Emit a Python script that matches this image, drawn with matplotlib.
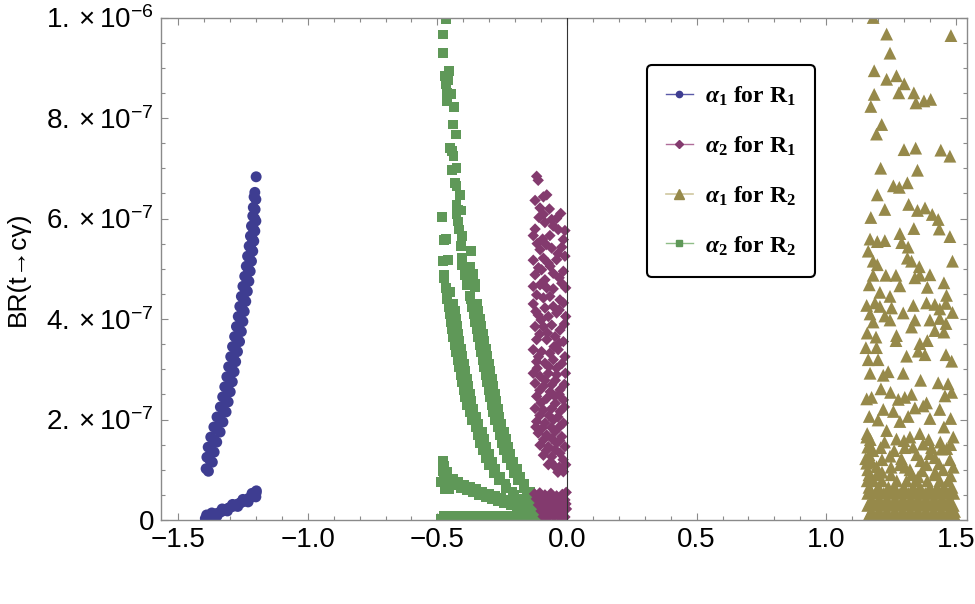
import numpy as np
import matplotlib.pyplot as plt
from matplotlib.lines import Line2D
from matplotlib.ticker import MultipleLocator

plt.rcParams['font.family'] = ['Liberation Sans', 'DejaVu Sans']
plt.rcParams['mathtext.fontset'] = 'custom'
plt.rcParams['mathtext.rm'] = 'Liberation Sans'
plt.rcParams['mathtext.it'] = 'Liberation Sans:italic'
plt.rcParams['mathtext.bf'] = 'Liberation Serif:italic:bold'
plt.rcParams['mathtext.sf'] = 'Liberation Serif:bold'

# values: (x, BR in units of 1e-7)
blue_pts = [
    (-1.392, 1.02), (-1.383, 0.97),
    (-1.389, 1.25), (-1.378, 1.20), (-1.368, 1.15),
    (-1.384, 1.45), (-1.372, 1.40), (-1.361, 1.35),
    (-1.374, 1.65), (-1.362, 1.60), (-1.351, 1.55),
    (-1.362, 1.85), (-1.349, 1.80), (-1.338, 1.75),
    (-1.350, 2.05), (-1.338, 2.00), (-1.327, 1.95),
    (-1.337, 2.25), (-1.326, 2.20), (-1.315, 2.15),
    (-1.328, 2.45), (-1.317, 2.40), (-1.307, 2.35),
    (-1.320, 2.65), (-1.309, 2.60), (-1.299, 2.55),
    (-1.312, 2.85), (-1.301, 2.80), (-1.291, 2.75),
    (-1.305, 3.05), (-1.294, 3.00), (-1.284, 2.95),
    (-1.297, 3.25), (-1.287, 3.20), (-1.278, 3.15),
    (-1.290, 3.45), (-1.280, 3.40), (-1.271, 3.35),
    (-1.282, 3.65), (-1.272, 3.60), (-1.263, 3.55),
    (-1.275, 3.85), (-1.265, 3.80), (-1.256, 3.75),
    (-1.268, 4.05), (-1.259, 4.00), (-1.250, 3.95),
    (-1.262, 4.25), (-1.253, 4.20), (-1.245, 4.15),
    (-1.256, 4.45), (-1.247, 4.40), (-1.239, 4.35),
    (-1.250, 4.65), (-1.241, 4.60), (-1.233, 4.55),
    (-1.243, 4.85), (-1.235, 4.80), (-1.227, 4.75),
    (-1.237, 5.05), (-1.229, 5.00), (-1.222, 4.95),
    (-1.232, 5.25), (-1.224, 5.20), (-1.217, 5.15),
    (-1.226, 5.45), (-1.219, 5.40), (-1.212, 5.35),
    (-1.221, 5.65), (-1.214, 5.60), (-1.208, 5.55),
    (-1.217, 5.85), (-1.210, 5.80), (-1.204, 5.75),
    (-1.212, 6.05), (-1.205, 6.00), (-1.200, 5.95),
    (-1.210, 6.22), (-1.203, 6.18),
    (-1.207, 6.43), (-1.200, 6.38),
    (-1.204, 6.52), (-1.199, 6.83),
    # lower branch
    (-1.395, 0.03), (-1.388, 0.06), (-1.380, 0.07), (-1.372, 0.09),
    (-1.364, 0.10), (-1.356, 0.12), (-1.348, 0.13), (-1.340, 0.15),
    (-1.332, 0.17), (-1.324, 0.19), (-1.316, 0.21), (-1.308, 0.23),
    (-1.300, 0.25), (-1.292, 0.27), (-1.284, 0.28), (-1.276, 0.30),
    (-1.268, 0.32), (-1.260, 0.34), (-1.252, 0.36), (-1.244, 0.38),
    (-1.236, 0.40), (-1.228, 0.43), (-1.220, 0.45), (-1.212, 0.48),
    (-1.205, 0.51), (-1.199, 0.54),
    (-1.390, 0.10), (-1.370, 0.14), (-1.350, 0.08), (-1.330, 0.22),
    (-1.310, 0.18), (-1.290, 0.31), (-1.270, 0.27), (-1.250, 0.41),
    (-1.230, 0.36), (-1.215, 0.53), (-1.200, 0.46), (-1.198, 0.58),
]

purple_pts = [
    (-0.117, 6.84), (-0.111, 6.76),
    (-0.123, 6.36), (-0.091, 6.43), (-0.078, 6.47),
    (-0.104, 6.21), (-0.068, 6.19), (-0.024, 6.10),
    (-0.091, 6.08), (-0.059, 5.98),
    (-0.123, 5.79), (-0.085, 5.92), (-0.053, 5.85), (-0.034, 5.78), (-0.008, 5.76),
    (-0.130, 5.66), (-0.094, 5.59), (-0.066, 5.66), (-0.014, 5.58),
    (-0.104, 5.38), (-0.059, 5.41), (-0.020, 5.43),
    (-0.130, 5.17), (-0.091, 5.21), (-0.072, 5.11), (-0.040, 5.18), (-0.008, 5.25),
    (-0.123, 4.88), (-0.098, 4.98), (-0.053, 4.91), (-0.014, 4.95),
    (-0.130, 4.65), (-0.104, 4.68), (-0.078, 4.62), (-0.053, 4.60), (-0.020, 4.71), (-0.005, 4.62),
    (-0.117, 4.48), (-0.091, 4.42), (-0.066, 4.45), (-0.027, 4.38),
    (-0.130, 4.30), (-0.085, 4.22), (-0.053, 4.25), (-0.014, 4.32),
    (-0.111, 4.08), (-0.072, 4.05), (-0.040, 4.12), (-0.005, 4.05),
    (-0.123, 3.85), (-0.091, 3.85), (-0.059, 3.88), (-0.027, 3.78),
    (-0.117, 3.59), (-0.078, 3.59), (-0.046, 3.65), (-0.014, 3.55),
    (-0.130, 3.39), (-0.098, 3.35), (-0.066, 3.32), (-0.034, 3.39),
    (-0.117, 3.15), (-0.085, 3.12), (-0.053, 3.19), (-0.020, 3.11),
    (-0.130, 2.92), (-0.104, 2.86), (-0.072, 2.92), (-0.040, 2.89), (-0.006, 2.92),
    (-0.123, 2.72), (-0.091, 2.66), (-0.059, 2.69), (-0.027, 2.59),
    (-0.117, 2.46), (-0.078, 2.42), (-0.046, 2.46), (-0.014, 2.39),
    (-0.123, 2.22), (-0.091, 2.19), (-0.059, 2.22), (-0.027, 2.16),
    (-0.117, 1.96), (-0.085, 1.93), (-0.053, 1.99), (-0.014, 1.93),
    (-0.111, 1.73), (-0.078, 1.69), (-0.046, 1.76), (-0.020, 1.66),
    (-0.104, 1.49), (-0.072, 1.46), (-0.040, 1.53), (-0.008, 1.46),
    (-0.091, 1.29), (-0.059, 1.26), (-0.027, 1.33),
    (-0.072, 1.10), (-0.046, 1.06), (-0.014, 0.96),
    (-0.108, 6.02), (-0.040, 6.00), (-0.115, 5.50), (-0.080, 5.48), (-0.035, 5.30),
    (-0.110, 5.02), (-0.065, 5.05), (-0.030, 4.82), (-0.085, 4.78), (-0.120, 4.15),
    (-0.030, 4.18), (-0.100, 3.98), (-0.010, 3.90), (-0.075, 3.72), (-0.105, 3.70),
    (-0.030, 3.52), (-0.050, 3.45), (-0.110, 3.25), (-0.008, 3.25), (-0.070, 3.05),
    (-0.040, 3.02), (-0.115, 3.02), (-0.085, 2.78), (-0.045, 2.78), (-0.010, 2.70),
    (-0.105, 2.58), (-0.065, 2.55), (-0.030, 2.50), (-0.100, 2.33), (-0.045, 2.32),
    (-0.010, 2.25), (-0.070, 2.08), (-0.105, 2.08), (-0.035, 2.05), (-0.095, 1.83),
    (-0.060, 1.84), (-0.030, 1.85), (-0.120, 1.85), (-0.090, 1.60), (-0.058, 1.62),
    (-0.028, 1.58), (-0.080, 1.38), (-0.045, 1.40), (-0.015, 1.20), (-0.062, 1.15),
    (-0.030, 1.05), (-0.005, 1.10), (-0.035, 0.95),
    # dense blob near zero
    (-0.125, 0.52), (-0.105, 0.54), (-0.085, 0.50), (-0.062, 0.53), (-0.040, 0.48),
    (-0.018, 0.51), (-0.003, 0.55),
    (-0.118, 0.42), (-0.097, 0.40), (-0.075, 0.43), (-0.052, 0.40), (-0.030, 0.42),
    (-0.008, 0.40),
    (-0.110, 0.30), (-0.090, 0.32), (-0.068, 0.29), (-0.045, 0.31), (-0.022, 0.29),
    (-0.004, 0.32),
    (-0.100, 0.18), (-0.080, 0.20), (-0.058, 0.17), (-0.036, 0.19), (-0.014, 0.18),
    (-0.002, 0.22),
    (-0.092, 0.07), (-0.072, 0.05), (-0.050, 0.07), (-0.028, 0.05), (-0.008, 0.06),
]

olive_pts = [
    (1.181, 10.0), (1.233, 9.67), (1.481, 9.64), (1.246, 9.29), (1.185, 8.94),
    (1.233, 8.77), (1.271, 8.84), (1.301, 8.68), (1.185, 8.47), (1.280, 8.50),
    (1.338, 8.50), (1.346, 8.30), (1.377, 8.34), (1.403, 8.37), (1.172, 8.23),
    (1.214, 7.87), (1.194, 7.68), (1.300, 7.37), (1.345, 7.40), (1.442, 7.36),
    (1.477, 7.24), (1.210, 7.00), (1.352, 6.96), (1.259, 6.65), (1.282, 6.62),
    (1.313, 6.71), (1.197, 6.47), (1.318, 6.28), (1.352, 6.16), (1.381, 6.21),
    (1.409, 6.08), (1.432, 5.98), (1.172, 6.02), (1.226, 6.18), (1.436, 5.79),
    (1.338, 5.80), (1.284, 5.70), (1.169, 5.59), (1.197, 5.54), (1.226, 5.56),
    (1.477, 5.64), (1.291, 5.52), (1.316, 5.43), (1.162, 5.35), (1.181, 5.15),
    (1.197, 5.08), (1.313, 5.21), (1.329, 5.15), (1.359, 5.04), (1.487, 5.15),
    (1.181, 4.87), (1.230, 4.87), (1.269, 4.87), (1.342, 4.82), (1.361, 4.87),
    (1.400, 4.88), (1.166, 4.68), (1.284, 4.66), (1.454, 4.72), (1.207, 4.53),
    (1.246, 4.45), (1.390, 4.63), (1.464, 4.47), (1.156, 4.27), (1.188, 4.32),
    (1.207, 4.25), (1.252, 4.22), (1.336, 4.27), (1.387, 4.32), (1.419, 4.29),
    (1.438, 4.20), (1.462, 4.31), (1.487, 4.13), (1.169, 4.10), (1.181, 3.94),
    (1.226, 4.06), (1.246, 3.98), (1.297, 4.12), (1.342, 3.98), (1.400, 3.98),
    (1.438, 4.01), (1.462, 3.91), (1.158, 3.72), (1.192, 3.64), (1.271, 3.67),
    (1.329, 3.84), (1.361, 3.51), (1.390, 3.57), (1.419, 3.77), (1.454, 3.74),
    (1.153, 3.43), (1.194, 3.43), (1.269, 3.57), (1.355, 3.36), (1.381, 3.29),
    (1.462, 3.29), (1.484, 3.16), (1.162, 3.19), (1.200, 3.19), (1.239, 2.95),
    (1.310, 3.26), (1.297, 2.92), (1.364, 2.78), (1.169, 2.92), (1.220, 2.88),
    (1.432, 2.73), (1.470, 2.71), (1.156, 2.41), (1.175, 2.44), (1.211, 2.61),
    (1.248, 2.54), (1.278, 2.40), (1.303, 2.44), (1.329, 2.50), (1.387, 2.33),
    (1.458, 2.47), (1.484, 2.54), (1.166, 2.06), (1.220, 2.20), (1.259, 2.16),
    (1.342, 2.23), (1.374, 2.27), (1.438, 2.20), (1.200, 1.99), (1.284, 1.96),
    (1.316, 2.06), (1.400, 2.02), (1.480, 2.02), (1.156, 1.65), (1.233, 1.78),
    (1.361, 1.72), (1.454, 1.85), (1.490, 1.65), (1.271, 1.61), (1.323, 1.65),
    (1.169, 1.47), (1.374, 1.51), (1.406, 1.44), (1.210, 1.44), (1.303, 1.44),
    (1.445, 1.41), (1.246, 1.27), (1.349, 1.30), (1.419, 1.24), (1.477, 1.20),
    (1.156, 1.13), (1.194, 1.06), (1.284, 1.10), (1.387, 1.10), (1.323, 1.00),
    (1.451, 1.00), (1.160, 1.00), (1.152, 1.22), (1.176, 1.15),
    (1.165, 1.30), (1.160, 1.45), (1.170, 1.60), (1.158, 1.72), (1.180, 1.38),
    (1.215, 1.20), (1.262, 1.38), (1.290, 1.22), (1.335, 1.45), (1.365, 1.18),
    (1.400, 1.32), (1.435, 1.12), (1.465, 1.42), (1.490, 1.05), (1.225, 1.55),
    (1.300, 1.58), (1.395, 1.60), (1.480, 1.50), (1.440, 1.55), (1.250, 1.05),
    (1.305, 1.05), (1.370, 0.98), (1.420, 0.95), (1.480, 0.88), (1.215, 0.95),
    (1.355, 0.86),
    # dense band at the bottom
    (1.160, 0.05), (1.190, 0.05), (1.220, 0.05), (1.250, 0.05), (1.280, 0.05),
    (1.310, 0.05), (1.340, 0.05), (1.370, 0.05), (1.400, 0.05), (1.430, 0.05),
    (1.460, 0.05), (1.490, 0.05),
    (1.168, 0.11), (1.198, 0.11), (1.228, 0.11), (1.258, 0.11), (1.288, 0.11),
    (1.318, 0.11), (1.348, 0.11), (1.378, 0.11), (1.408, 0.11), (1.438, 0.11),
    (1.468, 0.11), (1.494, 0.11),
    (1.175, 0.17), (1.205, 0.17), (1.235, 0.17), (1.265, 0.17), (1.295, 0.17),
    (1.325, 0.17), (1.355, 0.17), (1.385, 0.17), (1.415, 0.17), (1.445, 0.17),
    (1.475, 0.17), (1.495, 0.17),
    (1.160, 0.29), (1.190, 0.29), (1.220, 0.29), (1.250, 0.29), (1.280, 0.29),
    (1.310, 0.29), (1.340, 0.29), (1.370, 0.29), (1.400, 0.29), (1.430, 0.29),
    (1.460, 0.29), (1.490, 0.29),
    (1.170, 0.35), (1.200, 0.35), (1.230, 0.35), (1.262, 0.35), (1.292, 0.35),
    (1.322, 0.35), (1.352, 0.35), (1.380, 0.35), (1.412, 0.35), (1.442, 0.35),
    (1.472, 0.35),
    (1.175, 0.41), (1.205, 0.41), (1.235, 0.41), (1.265, 0.41), (1.295, 0.41),
    (1.325, 0.41), (1.355, 0.41), (1.385, 0.41), (1.415, 0.41), (1.445, 0.41),
    (1.475, 0.41),
    (1.160, 0.53), (1.190, 0.53), (1.222, 0.53), (1.255, 0.53), (1.285, 0.53),
    (1.318, 0.53), (1.350, 0.53), (1.382, 0.53), (1.410, 0.53), (1.440, 0.53),
    (1.470, 0.53), (1.492, 0.53),
    (1.172, 0.59), (1.208, 0.59), (1.238, 0.59), (1.270, 0.59), (1.302, 0.59),
    (1.333, 0.59), (1.366, 0.59), (1.396, 0.59), (1.425, 0.59), (1.456, 0.59),
    (1.482, 0.59),
    (1.165, 0.65), (1.200, 0.65), (1.240, 0.65), (1.262, 0.65), (1.300, 0.65),
    (1.335, 0.65), (1.362, 0.65), (1.400, 0.65), (1.428, 0.65), (1.455, 0.65),
    (1.485, 0.65),
    (1.158, 0.78), (1.182, 0.78), (1.215, 0.78), (1.272, 0.78), (1.310, 0.78),
    (1.345, 0.78), (1.390, 0.78), (1.438, 0.78), (1.470, 0.78),
    (1.165, 0.90), (1.195, 0.90), (1.250, 0.90), (1.330, 0.90), (1.420, 0.90),
]

green_pts = [
    # upper part
    (-0.468, 9.97), (-0.477, 9.66), (-0.477, 9.30), (-0.454, 8.93), (-0.470, 8.84),
    (-0.460, 8.76), (-0.467, 8.67), (-0.464, 8.50), (-0.447, 8.47), (-0.464, 8.33),
    (-0.436, 8.22), (-0.441, 7.87), (-0.429, 7.67), (-0.451, 7.40), (-0.442, 7.34),
    (-0.438, 7.24), (-0.445, 6.96), (-0.426, 7.00), (-0.432, 6.71), (-0.426, 6.64),
    (-0.413, 6.47), (-0.426, 6.27), (-0.419, 6.18), (-0.409, 6.16), (-0.426, 6.08),
    (-0.481, 6.03), (-0.419, 5.94), (-0.415, 5.78), (-0.406, 5.65), (-0.473, 5.58),
    (-0.468, 5.60), (-0.409, 5.46), (-0.371, 5.35), (-0.477, 5.15), (-0.458, 5.17),
    (-0.404, 5.21), (-0.404, 5.08), (-0.374, 5.03), (-0.474, 4.88), (-0.393, 4.87),
    (-0.361, 4.89), (-0.474, 4.82), (-0.387, 4.68), (-0.355, 4.70), (-0.355, 4.63),
    (-0.468, 4.62), (-0.451, 4.53), (-0.374, 4.46), (-0.462, 4.46),
    # left branch
    (-0.462, 4.39), (-0.438, 4.31), (-0.456, 4.24), (-0.432, 4.16),
    (-0.450, 4.09), (-0.426, 4.01), (-0.448, 3.94), (-0.424, 3.86),
    (-0.445, 3.79), (-0.421, 3.71), (-0.440, 3.64), (-0.416, 3.56),
    (-0.433, 3.49), (-0.409, 3.41), (-0.428, 3.34), (-0.404, 3.26),
    (-0.422, 3.19), (-0.398, 3.11), (-0.416, 3.04), (-0.392, 2.96),
    (-0.410, 2.89), (-0.386, 2.81), (-0.404, 2.74), (-0.380, 2.66),
    (-0.399, 2.59), (-0.375, 2.51), (-0.393, 2.44), (-0.369, 2.36),
    (-0.385, 2.29), (-0.361, 2.21), (-0.376, 2.14), (-0.352, 2.06),
    (-0.365, 1.99), (-0.341, 1.91), (-0.353, 1.84), (-0.329, 1.76),
    (-0.344, 1.69), (-0.320, 1.61), (-0.335, 1.54), (-0.311, 1.46),
    (-0.325, 1.39), (-0.301, 1.31), (-0.313, 1.24), (-0.289, 1.16),
    (-0.301, 1.09), (-0.277, 1.01), (-0.281, 0.94), (-0.257, 0.86),
    (-0.261, 0.79), (-0.237, 0.71), (-0.234, 0.64), (-0.210, 0.56),
    (-0.203, 0.49), (-0.179, 0.41), (-0.169, 0.34), (-0.145, 0.26),
    (-0.142, 0.24), (-0.118, 0.16),
    # right branch
    (-0.372, 4.39), (-0.348, 4.31), (-0.366, 4.24), (-0.342, 4.16),
    (-0.360, 4.09), (-0.336, 4.01), (-0.355, 3.94), (-0.331, 3.86),
    (-0.349, 3.79), (-0.325, 3.71), (-0.343, 3.64), (-0.319, 3.56),
    (-0.337, 3.49), (-0.313, 3.41), (-0.332, 3.34), (-0.308, 3.26),
    (-0.326, 3.19), (-0.302, 3.11), (-0.320, 3.04), (-0.296, 2.96),
    (-0.314, 2.89), (-0.290, 2.81), (-0.308, 2.74), (-0.284, 2.66),
    (-0.302, 2.59), (-0.278, 2.51), (-0.296, 2.44), (-0.272, 2.36),
    (-0.289, 2.29), (-0.265, 2.21), (-0.284, 2.14), (-0.260, 2.06),
    (-0.278, 1.99), (-0.254, 1.91), (-0.268, 1.84), (-0.244, 1.76),
    (-0.260, 1.69), (-0.236, 1.61), (-0.251, 1.54), (-0.227, 1.46),
    (-0.242, 1.39), (-0.218, 1.31), (-0.230, 1.24), (-0.206, 1.16),
    (-0.218, 1.09), (-0.194, 1.01), (-0.203, 0.94), (-0.179, 0.86),
    (-0.188, 0.79), (-0.164, 0.71), (-0.168, 0.64), (-0.144, 0.56),
    (-0.154, 0.49), (-0.130, 0.41), (-0.136, 0.34), (-0.112, 0.26),
    (-0.123, 0.24), (-0.099, 0.16),
    # lower branch
    (-0.478, 1.18), (-0.474, 1.08), (-0.480, 0.98), (-0.470, 0.90), (-0.476, 0.82),
    (-0.462, 0.95), (-0.458, 0.82), (-0.450, 0.74), (-0.440, 0.82), (-0.432, 0.70),
    (-0.420, 0.76), (-0.410, 0.64), (-0.398, 0.70), (-0.386, 0.60), (-0.374, 0.66),
    (-0.362, 0.55), (-0.350, 0.61), (-0.338, 0.50), (-0.326, 0.56), (-0.314, 0.46),
    (-0.302, 0.52), (-0.290, 0.42), (-0.278, 0.47), (-0.266, 0.38), (-0.254, 0.43),
    (-0.242, 0.33), (-0.230, 0.39), (-0.218, 0.30), (-0.206, 0.35), (-0.194, 0.27),
    (-0.182, 0.31), (-0.170, 0.24), (-0.158, 0.28), (-0.146, 0.21), (-0.134, 0.25),
    (-0.122, 0.18), (-0.110, 0.22), (-0.100, 0.16), (-0.094, 0.20),
    (-0.485, 0.75), (-0.470, 0.62), (-0.455, 0.62),
    # flat band on the axis
    (-0.485, 0.03), (-0.465, 0.03), (-0.445, 0.03), (-0.425, 0.03), (-0.405, 0.03),
    (-0.385, 0.03), (-0.365, 0.03), (-0.345, 0.03), (-0.325, 0.03), (-0.305, 0.03),
    (-0.285, 0.03), (-0.265, 0.03), (-0.245, 0.03), (-0.225, 0.03), (-0.205, 0.03),
    (-0.185, 0.03), (-0.165, 0.03), (-0.145, 0.03), (-0.125, 0.03), (-0.105, 0.03),
    (-0.475, 0.08), (-0.455, 0.08), (-0.435, 0.08), (-0.415, 0.08), (-0.395, 0.08),
    (-0.375, 0.08), (-0.355, 0.08), (-0.335, 0.08), (-0.315, 0.08), (-0.295, 0.08),
    (-0.275, 0.08), (-0.255, 0.08), (-0.235, 0.08), (-0.215, 0.08), (-0.195, 0.08),
    (-0.175, 0.08), (-0.155, 0.08), (-0.135, 0.08), (-0.115, 0.08), (-0.095, 0.08),
    (-0.115, 0.12), (-0.100, 0.10),
]

series_labels = [r'$\mathbf{\alpha}_{\mathsf{1}}$ for R$_{\mathsf{1}}$',
                 r'$\mathbf{\alpha}_{\mathsf{2}}$ for R$_{\mathsf{1}}$',
                 r'$\mathbf{\alpha}_{\mathsf{1}}$ for R$_{\mathsf{2}}$',
                 r'$\mathbf{\alpha}_{\mathsf{2}}$ for R$_{\mathsf{2}}$']
xtick_vals = [-1.5, -1.0, -0.5, 0.0, 0.5, 1.0, 1.5]
xtick_labels = ['\u22121.5', '\u22121.0', '\u22120.5', '0.0', '0.5', '1.0', '1.5']
ytick_vals = [0, 2e-7, 4e-7, 6e-7, 8e-7, 1e-6]
ytick_labels = ['0', r'$2.\times10^{-7}$', r'$4.\times10^{-7}$',
                r'$6.\times10^{-7}$', r'$8.\times10^{-7}$', r'$1.\times10^{-6}$']

c_blue = '#3e3d91'
c_purple = '#833a6e'
c_olive = '#96894a'
c_green = '#5f9858'

fig = plt.figure(figsize=(9.75, 6.04), dpi=100)
ax = fig.add_axes([161 / 975, 84 / 604, 806 / 975, 502.5 / 604])

def xy(pts):
    a = np.array(pts)
    return a[:, 0], a[:, 1] * 1e-7

gx, gy = xy(green_pts)
ax.scatter(gx, gy, s=50, marker='s', color=c_green, edgecolors='none', zorder=2)
bx, by = xy(blue_pts)
ax.scatter(bx, by, s=62, marker='o', color=c_blue, edgecolors='none', zorder=2)
px, py = xy(purple_pts)
ax.scatter(px, py, s=34, marker='D', color=c_purple, edgecolors='none', zorder=2)
ox, oy = xy(olive_pts)
ax.scatter(ox, oy, s=85, marker='^', color=c_olive, edgecolors='none', zorder=2)

ax.axvline(0, color='#333333', lw=0.8, zorder=3)

ax.set_xlim(-1.566, 1.543)
ax.set_ylim(0, 1e-6)
ax.set_xticks(xtick_vals, xtick_labels)
ax.set_yticks(ytick_vals, ytick_labels)
ax.xaxis.set_minor_locator(MultipleLocator(0.1))
ax.yaxis.set_minor_locator(MultipleLocator(0.5e-7))
ax.tick_params(which='both', direction='in', top=True, right=True,
               color='#8a8a8a', labelsize=20)
ax.tick_params(which='major', length=5, width=0.8)
ax.tick_params(which='minor', length=3, width=0.8)
ax.tick_params(axis='x', pad=5)
ax.tick_params(axis='y', pad=5)
for sp in ax.spines.values():
    sp.set_color('#8a8a8a')
    sp.set_linewidth(1.0)

ax.set_ylabel('BR(t\u2192c\u03b3)', fontsize=19)
ax.yaxis.set_label_coords(-0.163, 0.5)

handles = [
    Line2D([], [], color='#5a59a8', lw=1, marker='o', markersize=4.5,
           markerfacecolor=c_blue, markeredgecolor=c_blue),
    Line2D([], [], color='#b06c99', lw=1, marker='D', markersize=3.6,
           markerfacecolor=c_purple, markeredgecolor=c_purple),
    Line2D([], [], color='#cfc79f', lw=1.2, marker='^', markersize=7,
           markerfacecolor=c_olive, markeredgecolor=c_olive),
    Line2D([], [], color='#8fbd88', lw=1, marker='s', markersize=4.5,
           markerfacecolor=c_green, markeredgecolor=c_green),
]
leg = ax.legend(handles, series_labels, loc='upper left',
                bbox_to_anchor=(0.603, 0.905), borderaxespad=0,
                frameon=True, fancybox=True, framealpha=1, edgecolor='black',
                prop=dict(family='Liberation Serif', weight='bold', size=17),
                handlelength=1.15, handletextpad=0.5, labelspacing=1.1,
                borderpad=0.8)
leg.get_frame().set_linewidth(1.5)

fig.savefig('out.png', dpi=100)
